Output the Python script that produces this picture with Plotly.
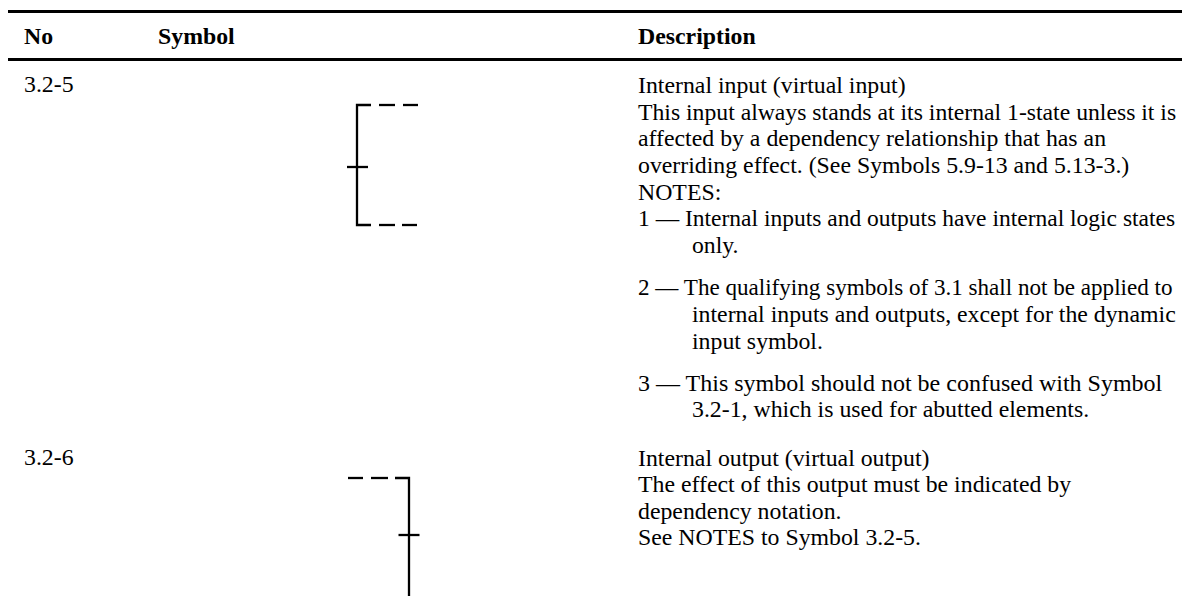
import plotly.graph_objects as go

FONT = "Liberation Serif"
TEXT_SIZE = 23.8
BLACK = "#000000"

header_labels = ["No", "Symbol", "Description"]
header_x = [24, 158, 638]
header_y = [38, 38, 38]

number_labels = ["3.2-5", "3.2-6"]
number_x = [24, 24]
number_y = [86, 459]

description_lines = [
    "Internal input (virtual input)",
    "This input always stands at its internal 1-state unless it is",
    "affected by a dependency relationship that has an",
    "overriding effect. (See Symbols 5.9-13 and 5.13-3.)",
    "NOTES:",
    "1 — Internal inputs and outputs have internal logic states",
    "only.",
    "2 — The qualifying symbols of 3.1 shall not be applied to",
    "internal inputs and outputs, except for the dynamic",
    "input symbol.",
    "3 — This symbol should not be confused with Symbol",
    "3.2-1, which is used for abutted elements.",
    "Internal output (virtual output)",
    "The effect of this output must be indicated by",
    "dependency notation.",
    "See NOTES to Symbol 3.2-5.",
]
description_x = [638, 638, 638, 638, 638, 638, 692, 638, 692, 692, 638, 692, 638, 638, 638, 638]
description_y = [87, 114, 140, 167, 194, 220, 247, 289, 316, 343, 385, 411, 460, 486, 513, 539]
description_sizes = [23.8, 23.7, 23.8, 23.8, 23.8, 23.5, 23.7, 23.1, 23.8, 23.8, 24.0, 23.8, 23.8, 23.8, 23.8, 23.8]

rule_x = [8, 1182, None, 8, 1182]
rule_y = [11.5, 11.5, None, 59.5, 59.5]

symbol_x = [
    371, 357, 357, 371, None, 379, 395, None, 403, 418, None,
    379, 395, None, 402, 417, None, 347, 368, None,
    348, 363, None, 371, 388, None, 395, 409, 409, None, 398.5, 419.5,
]
symbol_y = [
    105, 105, 225, 225, None, 105, 105, None, 105, 105, None,
    225, 225, None, 225, 225, None, 167, 167, None,
    478, 478, None, 478, 478, None, 478, 478, 596, None, 535, 535,
]

fig = go.Figure()
fig.add_trace(go.Scatter(x=rule_x, y=rule_y, mode="lines", line=dict(color=BLACK, width=3), hoverinfo="skip"))
fig.add_trace(go.Scatter(x=symbol_x, y=symbol_y, mode="lines", line=dict(color=BLACK, width=2.3), hoverinfo="skip"))
fig.add_trace(go.Scatter(
    x=header_x, y=header_y, text=["<b>%s</b>" % t for t in header_labels], mode="text",
    textposition="middle right", textfont=dict(family=FONT, size=TEXT_SIZE, color=BLACK), hoverinfo="skip",
))
fig.add_trace(go.Scatter(
    x=number_x, y=number_y, text=number_labels, mode="text",
    textposition="middle right", textfont=dict(family=FONT, size=TEXT_SIZE, color=BLACK), hoverinfo="skip",
))
fig.add_trace(go.Scatter(
    x=description_x, y=description_y, text=description_lines, mode="text",
    textposition="middle right", textfont=dict(family=FONT, size=description_sizes, color=BLACK), hoverinfo="skip",
))
fig.update_layout(
    width=1182, height=596, margin=dict(l=0, r=0, t=0, b=0),
    paper_bgcolor="white", plot_bgcolor="white", showlegend=False,
    xaxis=dict(range=[0, 1182], visible=False, fixedrange=True),
    yaxis=dict(range=[596, 0], visible=False, fixedrange=True),
)
fig.write_html(
    "out.html",
    config={"displayModeBar": False},
    post_script="document.body.style.margin='0';document.body.style.overflow='hidden';",
)
